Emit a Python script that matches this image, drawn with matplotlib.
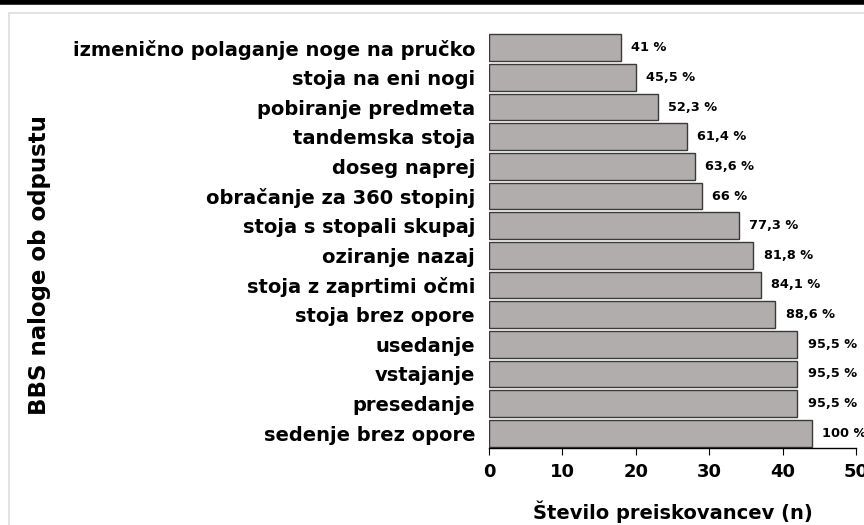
import matplotlib
matplotlib.use('Agg')
from matplotlib import pyplot as plt
from matplotlib.lines import Line2D
from matplotlib.patches import Rectangle

plt.rcParams['font.family'] = ['DejaVu Sans']

naloge = ['izmenično polaganje noge na pručko', 'stoja na eni nogi', 'pobiranje predmeta',
          'tandemska stoja', 'doseg naprej', 'obračanje za 360 stopinj',
          'stoja s stopali skupaj', 'oziranje nazaj', 'stoja z zaprtimi očmi',
          'stoja brez opore', 'usedanje', 'vstajanje', 'presedanje', 'sedenje brez opore']
stevilo = [18, 20, 23, 27, 28, 29, 34, 36, 37, 39, 42, 42, 42, 44]
odstotki = ['41 %', '45,5 %', '52,3 %', '61,4 %', '63,6 %', '66 %', '77,3 %', '81,8 %',
            '84,1 %', '88,6 %', '95,5 %', '95,5 %', '95,5 %', '100 %']

fig = plt.figure(figsize=(8.64, 5.25), dpi=100)
ax = fig.add_axes([489/864, 1-448/525, (856-489)/864, (448-33)/525])

y = list(range(len(naloge)))
ax.barh(y, stevilo, height=0.9, color='#b1adac', edgecolor='#3a3a3a', linewidth=1)
for yi, v, t in zip(y, stevilo, odstotki):
    ax.text(v + 1.4, yi, t, va='center', ha='left', fontsize=9.3, fontweight='bold')

ax.set_ylim(len(naloge) - 0.5, -0.5)
ax.set_xlim(0, 50)
ax.set_xticks(range(0, 51, 10))
ax.set_yticks(y)
ax.set_yticklabels(naloge, fontsize=14, fontweight='bold')
ax.tick_params(axis='y', length=0, pad=10)
ax.tick_params(axis='x', direction='out', length=5, labelsize=13, pad=6)
for lbl in ax.get_xticklabels():
    lbl.set_fontweight('bold')
for s in ['top', 'right', 'left']:
    ax.spines[s].set_visible(False)
ax.spines['bottom'].set_linewidth(1)
ax.set_xlabel('Število preiskovancev (n)', fontsize=14, fontweight='bold')
ax.xaxis.set_label_coords(0.5, -(512-448)/415, transform=ax.transAxes)
ax.xaxis.label.set_va('center')
ax.set_ylabel('BBS naloge ob odpustu', fontsize=16.5, fontweight='bold')
ax.yaxis.set_label_coords(-(489-39)/367, (448-265)/415)
ax.yaxis.label.set_va('center')

# okvir slike
fig.add_artist(Line2D([0, 1], [1 - 2/525, 1 - 2/525], color='black', linewidth=4))
fig.add_artist(Rectangle((9/864, -0.1), 1.2, 1 - 13/525 + 0.1, fill=False,
                         edgecolor='#dddddd', linewidth=1.2))

fig.savefig('out.png', dpi=100)
